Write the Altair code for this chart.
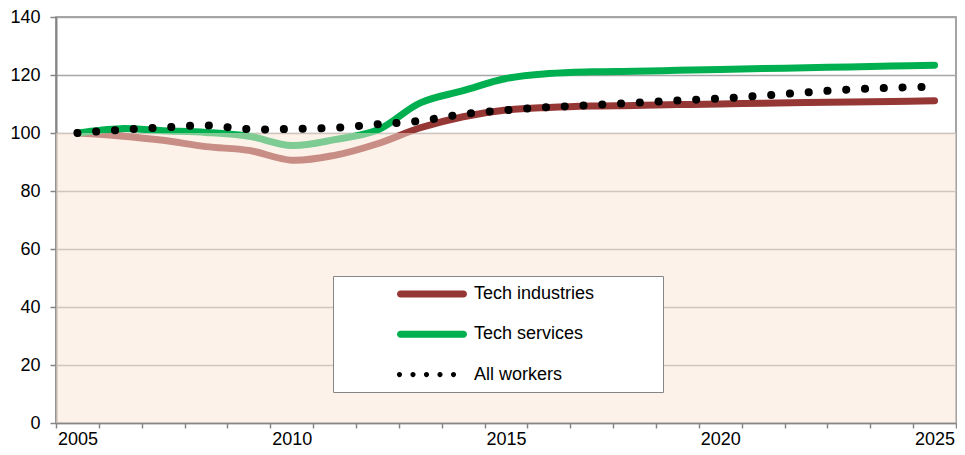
import altair as alt
import pandas as pd

years = list(range(2005, 2026))
tech_industries = [100, 99.0, 97.5, 95.3, 94.0, 90.6, 92.3, 96.3, 101.8, 105.6, 107.9,
                   108.8, 109.3, 109.5, 109.8, 110.0, 110.3, 110.5, 110.7, 110.9, 111.1]
tech_services = [100, 101.5, 100.8, 100.2, 98.9, 95.7, 97.7, 101.0, 110.4, 114.6, 118.8,
                 120.5, 121.1, 121.3, 121.6, 121.9, 122.2, 122.5, 122.8, 123.1, 123.4]
all_workers = [100, 101.1, 101.9, 102.6, 101.3, 101.4, 101.8, 103.0, 104.2, 106.5, 107.9,
               108.9, 109.6, 110.4, 111.2, 111.9, 112.9, 114.0, 115.0, 115.6, 116.0]

series_names = ["Tech industries", "Tech services", "All workers"]
series_colors = ["#953735", "#00B050", "#000000"]

shade_x = [2004.5]
shade_x2 = [2025.5]
shade_lo = [0]
shade_hi = [100]

y_ticks = [0, 20, 40, 60, 80, 100, 120, 140]
x_tick_values = [y + 0.5 for y in range(2004, 2026)]

rows = []
for name, vals in zip(series_names, [tech_industries, tech_services, all_workers]):
    for yr, v in zip(years, vals):
        rows.append({"year": yr, "value": v, "series": name})
df = pd.DataFrame(rows)
shade_df = pd.DataFrame({"x": shade_x, "x2": shade_x2, "lo": shade_lo, "hi": shade_hi})

FONT = "Liberation Sans"
PLOT_W = 900
PLOT_H = 406

x_scale = alt.Scale(domain=[2004.5, 2025.5], nice=False, zero=False)
y_scale = alt.Scale(domain=[0, 140], nice=False)

x_axis = alt.Axis(
    values=x_tick_values,
    labelExpr="(datum.value + 0.5) % 5 == 0 ? toString(datum.value + 0.5) : ''",
    labelOffset=PLOT_W / 21 / 2,
    labelFlush=False,
    labelOverlap=False,
    tickSize=5,
    tickColor="#868686",
    tickWidth=1.5,
    domainColor="#868686",
    domainWidth=1.5,
    grid=False,
    labelFont=FONT,
    labelFontSize=18,
    labelColor="#000000",
    labelPadding=2,
    title=None,
)
y_axis = alt.Axis(
    values=y_ticks,
    tickSize=6,
    tickColor="#868686",
    tickWidth=1.5,
    domainColor="#868686",
    domainWidth=2,
    grid=True,
    gridColor="#a6a6a6",
    gridWidth=1.5,
    labelFont=FONT,
    labelFontSize=18,
    labelColor="#000000",
    labelPadding=10,
    title=None,
)

base = alt.Chart(df)

line_ind = base.transform_filter(alt.datum.series == "Tech industries").mark_line(
    strokeWidth=7, interpolate="catmull-rom", strokeCap="round", color=series_colors[0]
).encode(
    x=alt.X("year:Q", scale=x_scale, axis=x_axis),
    y=alt.Y("value:Q", scale=y_scale, axis=y_axis),
)
line_srv = base.transform_filter(alt.datum.series == "Tech services").mark_line(
    strokeWidth=7, interpolate="catmull-rom", strokeCap="round", color=series_colors[1]
).encode(x="year:Q", y="value:Q")

shade = alt.Chart(shade_df).mark_rect(fill="#FBE5D6", opacity=0.5).encode(
    x="x:Q", x2="x2", y="lo:Q", y2="hi"
)

dots = base.transform_filter(alt.datum.series == "All workers").mark_line(
    strokeWidth=8, interpolate="catmull-rom", strokeCap="round",
    strokeDash=[0.1, 18.7], color="#000000"
).encode(x="year:Q", y="value:Q")

line_path = "M-0.65,-0.35L5.65,-0.35A0.35,0.35 0 0 1 5.65,0.35L-0.65,0.35A0.35,0.35 0 0 1 -0.65,-0.35Z"
def circ(cx, r=0.26):
    return f"M{cx - r},0a{r},{r} 0 1,0 {2*r},0a{r},{r} 0 1,0 {-2*r},0"
dot_path = "".join(circ(-0.75 + k * 1.35) for k in range(5))

# invisible right-hand spacer inside the legend box (non-breaking spaces kept by a zero-width char)
SPACER = "\u00a0" * 12 + "\u200b"
legend = alt.Legend(
    title=None,
    orient="none",
    legendX=277,
    legendY=259,
    padding=8,
    symbolOffset=56,
    symbolSize=400,
    symbolStrokeWidth=0,
    symbolOpacity=1,
    labelOffset=57,
    labelFont=FONT,
    labelFontSize=18,
    labelColor="#000000",
    labelLimit=500,
    labelExpr="datum.label + '" + SPACER + "'",
    rowPadding=21.3,
    fillColor="#ffffff",
    strokeColor="#868686",
)

legend_pts = base.mark_point(filled=True, opacity=0).encode(
    x="year:Q",
    y="value:Q",
    color=alt.Color("series:N", scale=alt.Scale(domain=series_names, range=series_colors),
                    sort=series_names, legend=legend),
    shape=alt.Shape("series:N", scale=alt.Scale(domain=series_names,
                    range=[line_path, line_path, dot_path]), sort=series_names, legend=legend),
)

chart = alt.layer(line_ind, line_srv, shade, dots, legend_pts).properties(
    width=PLOT_W,
    height=PLOT_H,
    autosize=alt.AutoSizeParams(type="none"),
    padding={"left": 48, "top": 9, "right": 1, "bottom": 24},
).configure_view(stroke="#868686", strokeWidth=1.5)

chart.save("out.html", embed_options={"renderer": "svg", "actions": False})
